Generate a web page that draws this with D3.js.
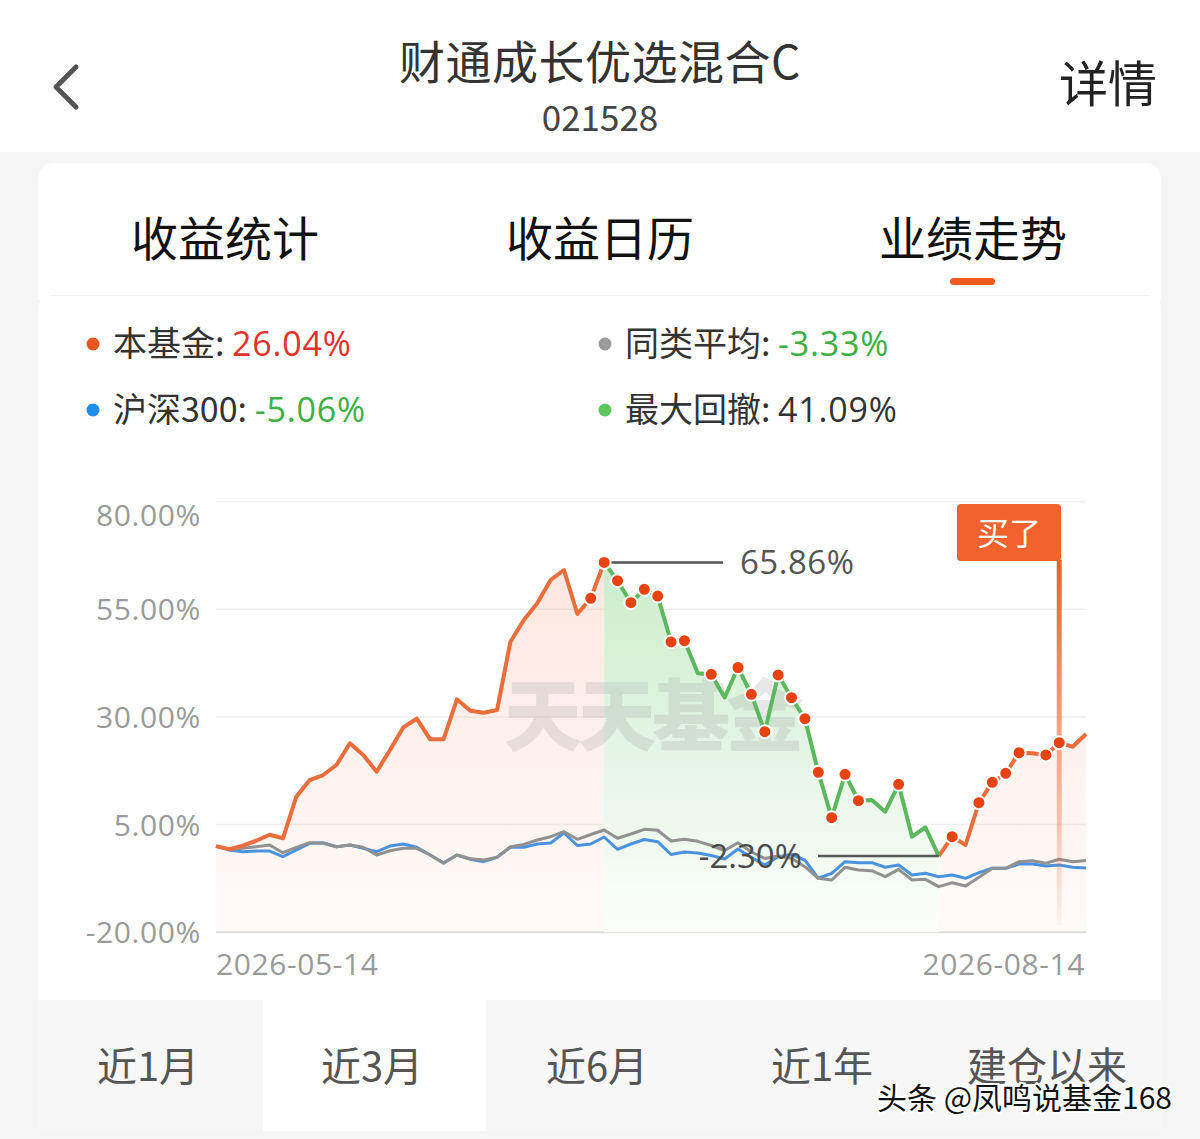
<!DOCTYPE html>
<html><head><meta charset="utf-8">
<script src="https://cdn.jsdelivr.net/npm/d3@7"></script>
<style>
html,body{margin:0;padding:0;background:#f5f5f5;}
svg{display:block;font-family:"Noto Sans CJK SC","Noto Sans",sans-serif;}
</style></head>
<body>
<svg id="c" width="1200" height="1139"></svg>
<script>
// ---- data ----
const fundName = "财通成长优选混合C";
const fundCode = "021528";
const topTabs = ["收益统计","收益日历","业绩走势"];
const rangeTabs = ["近1月","近3月","近6月","近1年","建仓以来"];
const xTickLabels = ["2026-05-14","2026-08-14"];
const yTicks = [80,55,30,5,-20];
const fundValues = [0,-0.73,0.1,1.26,2.65,1.82,11.48,15.35,16.51,18.83,23.87,21.15,17.28,22.31,27.59,29.58,24.8,24.8,34.09,31.44,30.97,31.6,47.46,52.5,56.37,61.78,64.1,53.89,57.53,65.86,61.62,56.51,59.62,58.06,47.39,47.69,40.12,39.89,34.5,41.47,35.25,26.56,39.73,34.46,29.58,17.14,6.6,16.68,10.55,10.71,8.0,14.35,2.19,4.37,-2.30,2.19,0.26,10.08,14.82,16.91,21.69,21.55,21.16,24.01,23.08,26.04];
const peerValues = [0,-0.73,-0.5,-0.13,0.26,-1.52,-0.27,0.8,0.66,-0.13,0.26,-0.27,-2.06,-1.06,-0.5,-0.5,-2.06,-3.98,-2.06,-2.92,-3.22,-2.59,-0.13,0.4,1.43,2.19,3.35,1.59,2.7,3.75,1.82,2.82,3.91,3.68,1.19,1.59,1.12,0.15,-1.01,0.8,-1.36,-2.87,-2.29,-2.82,-4.77,-7.46,-7.86,-4.91,-5.54,-5.7,-7.09,-5.38,-7.86,-7.7,-9.41,-8.49,-9.25,-7.23,-5.14,-5.14,-3.61,-3.38,-3.98,-3.05,-3.61,-3.33];
const hs300Values = [0,-0.9,-1.29,-1.13,-1.13,-2.45,-0.9,0.66,0.8,-0.13,0.26,-0.5,-1.29,0.03,0.5,-0.27,-2.06,-3.84,-2.06,-3.06,-3.61,-2.59,-0.27,-0.27,0.5,0.73,3.05,0.15,0.5,2.12,-0.73,0.5,1.54,1.03,-1.94,-1.36,-1.59,-2.17,-2.99,-0.67,-2.64,-4.38,-2.45,-1.94,-3.22,-7.46,-6.31,-3.61,-3.84,-3.84,-4.91,-4.38,-6.7,-6.31,-7.09,-6.7,-7.46,-6.16,-5.14,-5.14,-4.15,-4.15,-4.61,-4.38,-4.91,-5.06];
const dotIdx = [28,29,30,31,32,33,34,35,37,39,40,41,42,43,44,45,46,47,48,51,55,57,58,59,60,62,63];
const peakIdx = 29, troughIdx = 54, buyIdx = 63;
const legendItems = [
  {name:"本基金", value:"26.04%"},
  {name:"同类平均", value:"-3.33%"},
  {name:"沪深300", value:"-5.06%"},
  {name:"最大回撤", value:"41.09%"}
];
const peakLabel = "65.86%", troughLabel = "-2.30%";

// ---- drawing ----
const svg = d3.select("#c");
const defs = svg.append("defs");
const numFont = "'Open Sans','Noto Sans',sans-serif";

// page background
svg.append("rect").attr("x",0).attr("y",0).attr("width",1200).attr("height",1139).attr("fill","#f5f5f5");
svg.append("rect").attr("x",0).attr("y",0).attr("width",1200).attr("height",152).attr("fill","#ffffff");
// top tab card
svg.append("path").attr("d","M38,181 Q38,163 56,163 L1143,163 Q1161,163 1161,181 L1161,300 L38,300 Z").attr("fill","#fff");
// chart card
svg.append("path").attr("d","M38,309 Q38,295 52,295 L1147,295 Q1161,295 1161,309 L1161,1000 L38,1000 Z").attr("fill","#fff");
svg.append("line").attr("x1",50).attr("x2",1150).attr("y1",295.5).attr("y2",295.5).attr("stroke","#f2f2f2").attr("stroke-width",1);

// header
svg.append("path").attr("d","M76,67 L56,87 L76,107").attr("fill","none").attr("stroke","#555").attr("stroke-width",5).attr("stroke-linecap","round").attr("stroke-linejoin","round");
svg.append("text").attr("x",600).attr("y",79).attr("text-anchor","middle").attr("font-size",46).attr("fill","#333").attr("letter-spacing",0.5).text(fundName);
svg.append("text").attr("x",600).attr("y",131).attr("text-anchor","middle").attr("font-size",35).attr("fill","#444").text(fundCode);
svg.append("text").attr("x",1108).attr("y",102).attr("text-anchor","middle").attr("font-size",49).attr("fill","#222").text("详情");

// top tabs
const tabX = [225,600,973];
topTabs.forEach((t,i)=>{
  svg.append("text").attr("x",tabX[i]).attr("y",256).attr("text-anchor","middle").attr("font-size",47).attr("fill","#111").text(t);
});
svg.append("rect").attr("x",950).attr("y",278).attr("width",45).attr("height",7).attr("rx",3.5).attr("fill","#f05a1e");

// legend
const legendColors = ["#e8561e","#9a9a9a","#1e8fee","#5cc55c"];
const valueColors = ["#e0322c","#3cb043","#3cb043","#333"];
const legPos = [[93,344],[605,344],[93,410],[605,410]];
legendItems.forEach((d,i)=>{
  const [lx,ly] = legPos[i];
  svg.append("circle").attr("cx",lx).attr("cy",ly).attr("r",6.5).attr("fill",legendColors[i]);
  const t = svg.append("text").attr("x",lx+20).attr("y",ly+12).attr("font-size",34).attr("fill","#333");
  t.append("tspan").text(d.name+": ");
  t.append("tspan").attr("fill",valueColors[i]).attr("font-family",numFont).attr("font-size",34).attr("letter-spacing",0.8).text(d.value);
});

// scales
const x = d3.scaleLinear().domain([0,fundValues.length-1]).range([216,1086]);
const y = d3.scaleLinear().domain([-20,80]).range([932.3,501.5]);
const yBottom = y(-20);

// gridlines
const g = svg.append("g");
yTicks.forEach(v=>{
  g.append("line").attr("x1",216).attr("x2",1086).attr("y1",y(v)).attr("y2",y(v))
   .attr("stroke", v===-20 ? "#dedede" : "#efefef").attr("stroke-width", v===-20?2:1.5);
});
// y axis labels
const yAxis = d3.axisLeft(y).tickValues(yTicks).tickFormat(v=>v.toFixed(2)+"%").tickSize(0).tickPadding(0);
const ya = svg.append("g").attr("transform","translate(201,0)").call(yAxis);
ya.select(".domain").remove();
ya.selectAll("text").attr("font-size",30).attr("fill","#9a9a9a").attr("font-family",numFont).attr("letter-spacing",0.6)
  .attr("dy","0.35em")
  .attr("transform",d=> d===80 ? "translate(0,13)" : null);
// x labels
svg.append("text").attr("x",216).attr("y",975).attr("font-size",30).attr("letter-spacing",0.6).attr("fill","#9a9a9a").attr("font-family",numFont).text(xTickLabels[0]);
svg.append("text").attr("x",1085).attr("y",975).attr("text-anchor","end").attr("font-size",30).attr("letter-spacing",0.6).attr("fill","#9a9a9a").attr("font-family",numFont).text(xTickLabels[1]);

// gradients
const pg = defs.append("linearGradient").attr("id","pinkG").attr("x1",0).attr("x2",0)
  .attr("gradientUnits","userSpaceOnUse").attr("y1",y(66)).attr("y2",yBottom);
pg.append("stop").attr("offset",0).attr("stop-color","#f26a3a").attr("stop-opacity",0.16);
pg.append("stop").attr("offset",1).attr("stop-color","#f26a3a").attr("stop-opacity",0.03);
const gg = defs.append("linearGradient").attr("id","greenG").attr("x1",0).attr("x2",0)
  .attr("gradientUnits","userSpaceOnUse").attr("y1",y(66)).attr("y2",yBottom);
gg.append("stop").attr("offset",0).attr("stop-color","#5cc55c").attr("stop-opacity",0.32);
gg.append("stop").attr("offset",1).attr("stop-color","#5cc55c").attr("stop-opacity",0.02);
const vg = defs.append("linearGradient").attr("id","buyG").attr("x1",0).attr("x2",0)
  .attr("gradientUnits","userSpaceOnUse").attr("y1",560).attr("y2",925);
vg.append("stop").attr("offset",0).attr("stop-color","#f0602a").attr("stop-opacity",1);
vg.append("stop").attr("offset",0.5).attr("stop-color","#f0602a").attr("stop-opacity",0.55);
vg.append("stop").attr("offset",1).attr("stop-color","#f0602a").attr("stop-opacity",0.05);

const fundPts = fundValues.map((v,i)=>({i,v}));
const area = d3.area().x(d=>x(d.i)).y0(yBottom).y1(d=>y(d.v));
const line = d3.line().x(d=>x(d.i)).y(d=>y(d.v));

// pink area
svg.append("path").attr("d",area(fundPts)).attr("fill","url(#pinkG)");
// green area
const ddPts = fundPts.slice(peakIdx, troughIdx+1);
svg.append("path").attr("d",area(ddPts)).attr("fill","#ffffff");
svg.append("path").attr("d",area(ddPts)).attr("fill","url(#greenG)");

// watermark
svg.append("text").attr("x",652).attr("y",745).attr("text-anchor","middle").attr("font-size",78).attr("font-weight",900)
  .attr("fill","#9a9a9a").attr("opacity",0.22).attr("letter-spacing",-4).text("天天基金");

// comparison lines
svg.append("path").attr("d",line(hs300Values.map((v,i)=>({i,v})))).attr("fill","none").attr("stroke","#4a92de").attr("stroke-width",3).attr("stroke-linejoin","round");
svg.append("path").attr("d",line(peerValues.map((v,i)=>({i,v})))).attr("fill","none").attr("stroke","#919191").attr("stroke-width",3).attr("stroke-linejoin","round");

// buy marker vertical line
svg.append("rect").attr("x",x(buyIdx)-2.5).attr("y",560).attr("width",5).attr("height",365).attr("fill","url(#buyG)");

// fund line
svg.append("path").attr("d",line(fundPts.slice(0,peakIdx+1))).attr("fill","none").attr("stroke","#ea6e3c").attr("stroke-width",4).attr("stroke-linejoin","round");
svg.append("path").attr("d",line(fundPts.slice(troughIdx))).attr("fill","none").attr("stroke","#ea6e3c").attr("stroke-width",4).attr("stroke-linejoin","round");
svg.append("path").attr("d",line(ddPts)).attr("fill","none").attr("stroke","#5cb85c").attr("stroke-width",4).attr("stroke-linejoin","round");

// annotations
svg.append("line").attr("x1",x(peakIdx)).attr("x2",723).attr("y1",y(fundValues[peakIdx])).attr("y2",y(fundValues[peakIdx])).attr("stroke","#555").attr("stroke-width",2.5);
svg.append("text").attr("x",740).attr("y",y(fundValues[peakIdx])+12).attr("font-size",33).attr("letter-spacing",0.5).attr("fill","#555").attr("font-family",numFont).text(peakLabel);
svg.append("line").attr("x1",818).attr("x2",x(troughIdx)).attr("y1",y(fundValues[troughIdx])).attr("y2",y(fundValues[troughIdx])).attr("stroke","#555").attr("stroke-width",2.5);
svg.append("text").attr("x",802).attr("y",y(fundValues[troughIdx])+12).attr("text-anchor","end").attr("font-size",33).attr("fill","#4a4a4a").attr("font-family",numFont).text(troughLabel);

// dots
svg.append("g").selectAll("circle").data(dotIdx).join("circle")
  .attr("cx",i=>x(i)).attr("cy",i=>y(fundValues[i])).attr("r",6.5)
  .attr("fill","#e8420f").attr("stroke","#fff").attr("stroke-width",2);

// buy label
svg.append("rect").attr("x",957).attr("y",504).attr("width",104).attr("height",57).attr("rx",4).attr("fill","#f2622d");
svg.append("text").attr("x",1009).attr("y",545).attr("text-anchor","middle").attr("font-size",32).attr("fill","#fff").text("买了");

// bottom range tabs
svg.append("rect").attr("x",38).attr("y",1000).attr("width",1123).attr("height",131).attr("fill","#f7f7f7");
svg.append("rect").attr("x",263).attr("y",1000).attr("width",223).attr("height",131).attr("fill","#ffffff");
const rx = [148,372,597,822,1047];
rangeTabs.forEach((t,i)=>{
  svg.append("text").attr("x",rx[i]).attr("y",1081).attr("text-anchor","middle").attr("font-size",40).attr("fill","#555").text(t);
});
// watermark credit
svg.append("text").attr("x",1172).attr("y",1109).attr("text-anchor","end").attr("font-size",30)
  .attr("fill","#111").attr("stroke","#fff").attr("stroke-width",4).attr("paint-order","stroke").text("头条 @凤鸣说基金168");
</script>
</body></html>
